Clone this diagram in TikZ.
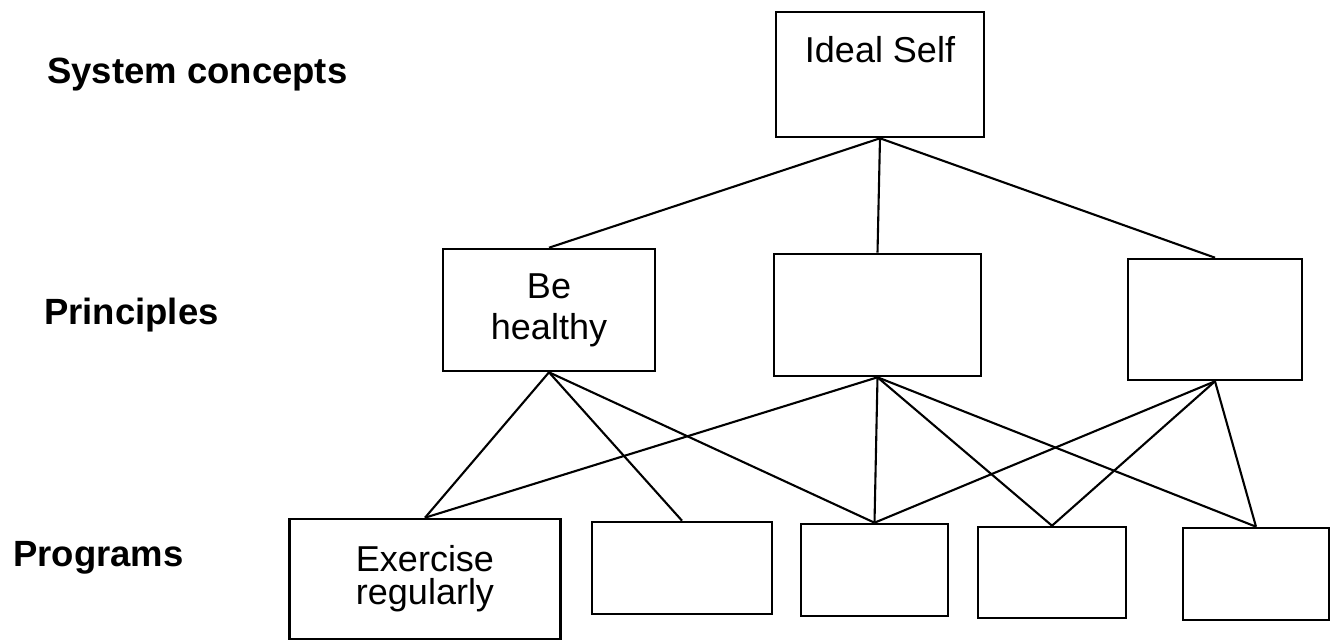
\documentclass[tikz,border=0pt]{standalone}
\usepackage{fontspec}
\setmainfont{Liberation Sans}
\usepackage{tikz}

\begin{document}
\begin{tikzpicture}[x=1pt,y=-1pt,
  box/.style={draw, line width=2.6pt, inner sep=0pt, align=center, font=\fontsize{36}{38}\selectfont},
  edge/.style={line width=2.1pt},
  lvl/.style={anchor=base west, inner sep=0pt, font=\fontsize{36.5}{40}\selectfont\bfseries}]
\useasboundingbox (0,0) rectangle (1330,640);
%% levels
\node[lvl] (sys) at (47,83) {System concepts};
\node[lvl] (prin) at (44,324) {Principles};
\node[lvl] (prog) at (13,566) {Programs};

%% boxes
\node[box, minimum width=208pt, text height=50pt, text depth=75pt] (ideal) at (880,74.5) {Ideal Self};

\node[box, minimum width=212pt, minimum height=122pt] (heal) at (549,310) {Be\\[3pt]healthy};
\node[box, minimum width=207pt, minimum height=122pt] (pmid) at (877.5,315) {};
\node[box, minimum width=174pt, minimum height=121pt] (pright) at (1215,319.5) {};

\node[box, minimum width=271pt, minimum height=120pt] (exer) at (425,579) {Exercise\\[-5pt]regularly};
\node[box, minimum width=180pt, minimum height=92pt] (progb) at (682,568) {};
\node[box, minimum width=147pt, minimum height=92pt] (progc) at (874.5,570) {};
\node[box, minimum width=148pt, minimum height=91pt] (progd) at (1052,572.5) {};
\node[box, minimum width=146pt, minimum height=92pt] (proge) at (1256,574) {};

%% edges
\draw[edge] (ideal.south) to (heal.north);
\draw[edge] (ideal.south) to (pmid.north);
\draw[edge] (ideal.south) to (pright.north);

\draw[edge] (heal.south) to (exer.north);
\draw[edge] (heal.south) to (progb.north);
\draw[edge] (heal.south) to (progc.north);

\draw[edge] (pmid.south) to (exer.north);
\draw[edge] (pmid.south) to (progc.north);
\draw[edge] (pmid.south) to (progd.north);
\draw[edge] (pmid.south) to (proge.north);

\draw[edge] (pright.south) to (progc.north);
\draw[edge] (pright.south) to (progd.north);
\draw[edge] (pright.south) to (proge.north);
\end{tikzpicture}
\end{document}
